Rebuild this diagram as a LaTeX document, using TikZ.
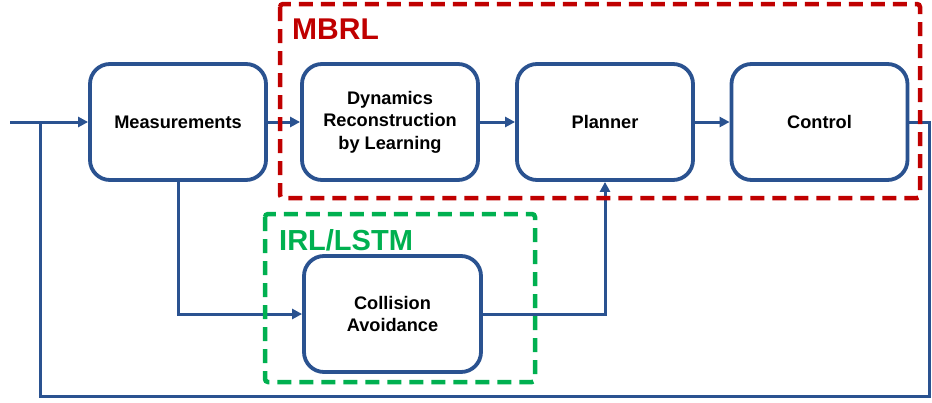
\documentclass[tikz,border=0pt]{standalone}
\usepackage{fontspec}
\setmainfont{Liberation Sans}
\usetikzlibrary{arrows.meta}
\definecolor{bblue}{HTML}{2A5290}
\definecolor{mred}{HTML}{C00000}
\definecolor{igreen}{HTML}{00B050}
\tikzset{
  blk/.style={draw=bblue, line width=3.8pt, rounded corners=20pt, fill=white,
    minimum width=176pt, minimum height=116pt, align=center,
    font=\fontsize{18.2}{22.5}\selectfont\bfseries, inner sep=0pt},
  conn/.style={draw=bblue, line width=3pt},
  arr/.style={conn, -{Triangle[length=10pt,width=10pt]}},
  grp/.style={line width=4.5pt, dash pattern=on 14pt off 8pt, rounded corners=3pt},
}
\begin{document}
\begin{tikzpicture}[x=1pt,y=-1pt]
\useasboundingbox (0,0) rectangle (932,402);
\node[blk] (meas) at (178,122) {Measurements};
\node[blk] (dyn) at (390,122) {Dynamics\\Reconstruction\\by Learning};
\node[blk] (plan) at (605,122) {Planner};
\node[blk] (ctrl) at (819.5,122) {Control};
\node[blk, minimum width=177pt, minimum height=116pt] (coll) at (392.5,314) {Collision\\Avoidance};
\coordinate (in) at (10,122);
\coordinate (j) at (40,122);
\coordinate (o1) at (929,122);
\coordinate (o2) at (929,396);
\coordinate (o3) at (40,396);
\draw[arr] (in) -- (meas.west);
\draw[arr] (meas.east) -- (dyn.west);
\draw[arr] (dyn.east) -- (plan.west);
\draw[arr] (plan.east) -- (ctrl.west);
\draw[conn] (ctrl.east) -- (o1) -- (o2) -- (o3) -- (j);
\draw[arr] (meas.south) |- (coll.west);
\draw[arr] (coll.east) -| (plan.south);
\draw[grp, draw=mred] (280,4) rectangle (920,198);
\draw[grp, draw=igreen] (265,214) rectangle (535,382);
\node[anchor=west, text=mred, font=\fontsize{30}{30}\selectfont\bfseries, inner sep=0pt] (mbrl) at (292,29) {MBRL};
\node[anchor=west, text=igreen, font=\fontsize{29}{29}\selectfont\bfseries, inner sep=0pt] (irl) at (279,240) {IRL/LSTM};
\end{tikzpicture}
\end{document}
